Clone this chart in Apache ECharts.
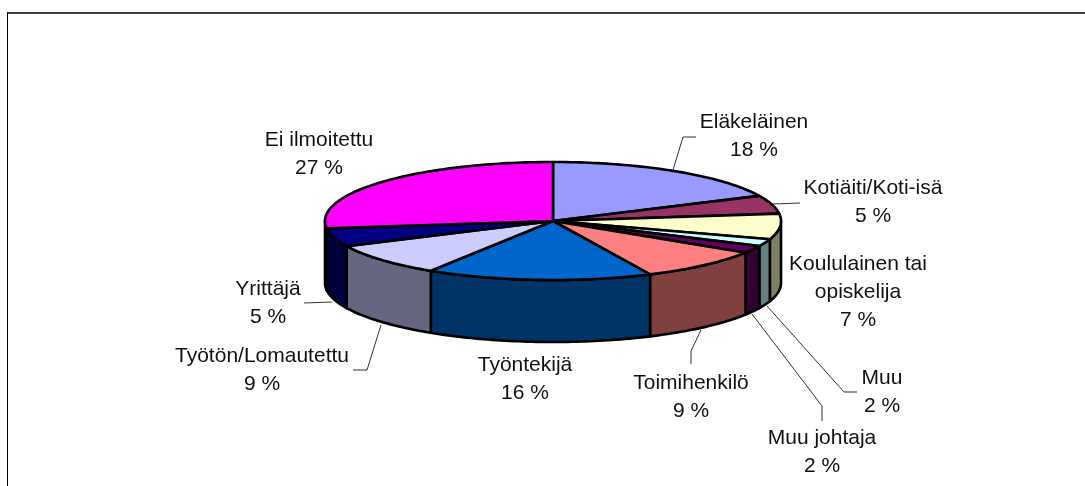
<!DOCTYPE html>
<html><head><meta charset="utf-8">
<style>html,body{margin:0;padding:0;background:#fff}#c{width:1085px;height:486px}</style>
<script src="https://cdn.jsdelivr.net/npm/echarts@6/dist/echarts.min.js"></script>
</head><body><div id="c"></div>
<script>
// Data
const categories = ['Eläkeläinen','Kotiäiti/Koti-isä','Koululainen tai\nopiskelija','Muu','Muu johtaja','Toimihenkilö','Työntekijä','Työtön/Lomautettu','Yrittäjä','Ei ilmoitettu'];
const values = [18,5,7,2,2,9,16,9,5,27];
const topColors = ['#9999FF','#993366','#FFFFCC','#CCFFFF','#660066','#FF8080','#0066CC','#CCCCFF','#000080','#FF00FF'];
const sideColors = ['#4D4D80','#4D1A33','#808066','#668080','#330033','#804040','#003366','#666680','#000040','#800080'];

// Layout (separate from data)
const P = {cx:553, cy:221, rx:228, ry:59, depth:62};
const labelAt = [[754,108],[873,174],[858,250],[882,364],[822,424],[691,369],[525,351],[262,342],[268,275],[319,126]];
const leaders = [
  [[673,170],[683,137],[696,137]],
  [[773,204],[800,203]],
  null,
  [[767,306],[844,392],[857,392]],
  [[752,314],[822,406],[822,421]],
  [[701,330],[691,351],[691,364]],
  null,
  [[381,325],[367,370],[353,370]],
  [[332,302],[304,303]],
  null
];
const total = values.reduce((a,b)=>a+b,0);
const starts = []; { let c=0; values.forEach(v=>{starts.push(c/total*Math.PI*2); c+=v;}); }
const pt = (a,dy)=>[P.cx+P.rx*Math.sin(a), P.cy-P.ry*Math.cos(a)+(dy||0)];
const arc = (a0,a1,dy)=>{const n=Math.max(2,Math.ceil((a1-a0)/0.02)),o=[];for(let i=0;i<=n;i++)o.push(pt(a0+(a1-a0)*i/n,dy));return o;};
const line = {stroke:'#000',lineWidth:2.6,lineJoin:'round'};

function renderSide(params,api){
  const i=params.dataIndex, a0=starts[i], a1=a0+api.value(0)/total*Math.PI*2;
  const s=Math.max(a0,Math.PI/2), e=Math.min(a1,Math.PI*1.5);
  if(e<=s) return {type:'group',children:[]};
  const pts=arc(s,e,0).concat(arc(s,e,P.depth).reverse());
  return {type:'polygon',shape:{points:pts},style:Object.assign({fill:sideColors[i]},line)};
}
function renderTop(params,api){
  const i=params.dataIndex, a0=starts[i], a1=a0+api.value(0)/total*Math.PI*2;
  return {type:'polygon',shape:{points:[[P.cx,P.cy]].concat(arc(a0,a1,0))},style:Object.assign({fill:topColors[i]},line)};
}
function renderLabel(params,api){
  const i=params.dataIndex, ch=[];
  if(leaders[i]) ch.push({type:'polyline',shape:{points:leaders[i]},style:{stroke:'#333',lineWidth:1,fill:null}});
  ch.push({type:'text',x:labelAt[i][0],y:labelAt[i][1],style:{
    text:categories[i]+'\n'+api.value(0)+' %',fill:'#111',align:'center',verticalAlign:'top',
    fontFamily:'"Liberation Sans", Arial, sans-serif',fontSize:21,lineHeight:28}});
  return {type:'group',children:ch};
}
const seriesData = values.map((v,i)=>({name:categories[i],value:[v]}));
const chart = echarts.init(document.getElementById('c'),null,{renderer:'canvas'});
chart.setOption({
  animation:false,
  backgroundColor:'#fff',
  graphic:[
    {type:'line',shape:{x1:7,y1:13,x2:1085,y2:13},style:{stroke:'#404040',lineWidth:2}},
    {type:'line',shape:{x1:7.5,y1:12,x2:7.5,y2:486},style:{stroke:'#000',lineWidth:1}}
  ],
  series:[
    {type:'custom',coordinateSystem:'none',renderItem:renderSide,data:seriesData,z:1,silent:true},
    {type:'custom',coordinateSystem:'none',renderItem:renderTop,data:seriesData,z:2,silent:true},
    {type:'custom',coordinateSystem:'none',renderItem:renderLabel,data:seriesData,z:3,silent:true}
  ]
});
</script></body></html>
